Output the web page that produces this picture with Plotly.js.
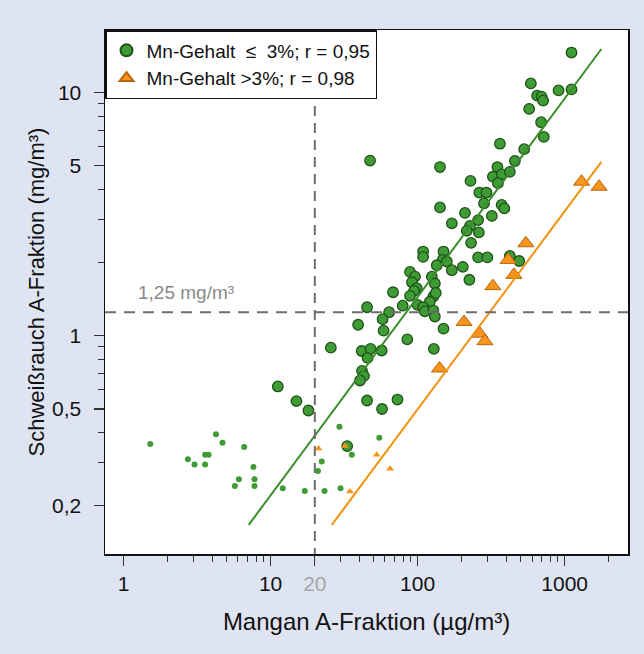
<!DOCTYPE html>
<html>
<head>
<meta charset="utf-8">
<script src="https://cdn.plot.ly/plotly-3.0.1.min.js"></script>
<style>html,body{margin:0;padding:0;background:#dfe4f3;}#chart{width:644px;height:654px;}</style>
</head>
<body>
<div id="chart"></div>
<script>
// Mn-Gehalt <= 3%, large markers (Mangan µg/m³, Schweißrauch mg/m³)
const mnLowX = [1114, 589, 909, 1114, 650, 697, 714, 574, 692, 722,
  363, 531, 47.5, 459, 142, 349, 325, 374, 424, 229,
  352, 263, 294, 283, 373, 389, 142, 210, 320, 171,
  227, 258, 216, 261, 231, 109, 109, 150, 148, 158,
  171, 203, 135, 258, 298, 424, 491, 125, 131, 225,
  88.8, 96, 91.6, 98.6, 94.6, 68.1, 88.8, 128, 133, 121,
  45.3, 79.2, 100, 109, 112, 128, 131, 64, 57.8, 58.7,
  39.4, 150, 85.1, 129, 25.7, 41.7, 47.9, 57, 45.7, 41.9,
  43.2, 40.6, 11.2, 15.0, 18.1, 45.3, 73.0, 57.3, 33.2];
const mnLowY = [14.6, 10.9, 10.2, 10.3, 9.71, 9.62, 9.26, 8.56, 7.55, 6.57,
  6.16, 5.85, 5.25, 5.23, 4.94, 4.94, 4.51, 4.61, 4.72, 4.33,
  4.24, 3.88, 3.88, 3.50, 3.45, 3.34, 3.37, 3.20, 3.11, 2.90,
  2.83, 2.99, 2.70, 2.66, 2.41, 2.22, 2.11, 2.22, 2.05, 2.02,
  1.86, 1.92, 1.95, 2.10, 2.10, 2.13, 2.03, 1.75, 1.64, 1.70,
  1.83, 1.75, 1.66, 1.57, 1.53, 1.51, 1.46, 1.45, 1.50, 1.38,
  1.31, 1.33, 1.34, 1.31, 1.26, 1.27, 1.20, 1.25, 1.17, 1.05,
  1.11, 1.07, 0.967, 0.883, 0.894, 0.866, 0.884, 0.870, 0.811, 0.717,
  0.684, 0.655, 0.619, 0.539, 0.493, 0.542, 0.547, 0.500, 0.352];
// Mn-Gehalt <= 3%, small markers
const mnLowSmallX = [1.52, 2.74, 3.04, 3.59, 3.79, 3.59, 4.25, 4.71, 6.62, 7.65, 6.09, 5.72,
  7.78, 7.78, 12.1, 17.1, 23.3, 29.9, 22.3, 21.0, 29.4, 54.9, 35.7];
const mnLowSmallY = [0.359, 0.311, 0.296, 0.324, 0.324, 0.296, 0.394, 0.363, 0.349, 0.289, 0.257, 0.241,
  0.257, 0.241, 0.236, 0.230, 0.230, 0.236, 0.304, 0.278, 0.423, 0.381, 0.324];
// Mn-Gehalt > 3%, large markers
const mnHighX = [1303, 1715, 545, 413, 452, 325, 207, 265, 287, 141];
const mnHighY = [4.30, 4.10, 2.40, 2.05, 1.78, 1.60, 1.14, 1.02, 0.95, 0.734];
// Mn-Gehalt > 3%, small markers
const mnHighSmallX = [21.2, 32.1, 52.7, 65.0, 34.7];
const mnHighSmallY = [0.344, 0.352, 0.324, 0.284, 0.229];
// regression lines (end points)
const fitLowX = [7.1, 1778];
const fitLowY = [0.167, 15.1];
const fitHighX = [26.1, 1778];
const fitHighY = [0.167, 5.19];
// reference values
const limitMn = 20;
const limitFume = 1.25;
const verticalTop = 9.2;
// ticks
const xTickVals = [1, 10, 20, 100, 1000];
const xTickText = ['1', '10', '<span style="color:#a6a6a6">20</span>', '100', '1000'];
const xMinorVals = [2,3,4,5,6,7,8,9,30,40,50,60,70,80,90,200,300,400,500,600,700,800,900,2000];
const yTickVals = [0.2, 0.5, 1, 5, 10];
const yTickText = ['0,2', '0,5', '1', '5', '10'];
const yMinorVals = [0.3,0.4,0.6,0.7,0.8,0.9,2,3,4,6,7,8,9];
const legendLow = 'Mn-Gehalt\u00a0 \u2264 \u00a03%; r = 0,95';
const legendHigh = 'Mn-Gehalt >3%; r = 0,98';
const fumeLabel = '1,25 mg/m\u00b3';

const green = '#3f9b35', greenDark = '#1e5317', greenLine = '#3a8f2b';
const orange = '#f7941d', orangeDark = '#b8660c', orangeLine = '#f0920e';
const font = 'Liberation Sans, Arial, sans-serif';

const traces = [
  {x: mnLowX, y: mnLowY, type: 'scatter', mode: 'markers', name: legendLow,
   marker: {symbol: 'circle', size: 10.5, color: green, line: {color: greenDark, width: 1.3}}},
  {x: mnLowSmallX, y: mnLowSmallY, type: 'scatter', mode: 'markers', showlegend: false,
   marker: {symbol: 'circle', size: 6, color: green}},
  {x: mnHighX, y: mnHighY, type: 'scatter', mode: 'markers', name: legendHigh,
   marker: {symbol: 'triangle-up', size: 14, color: orange, line: {color: orangeDark, width: 1}}},
  {x: mnHighSmallX, y: mnHighSmallY, type: 'scatter', mode: 'markers', showlegend: false,
   marker: {symbol: 'triangle-up', size: 7, color: orange}},
  {x: fitLowX, y: fitLowY, type: 'scatter', mode: 'lines', showlegend: false,
   line: {color: greenLine, width: 2}},
  {x: fitHighX, y: fitHighY, type: 'scatter', mode: 'lines', showlegend: false,
   line: {color: orangeLine, width: 2}}
];

const layout = {
  width: 644, height: 654,
  paper_bgcolor: '#dfe4f3', plot_bgcolor: '#ffffff',
  margin: {l: 105, r: 16, t: 30, b: 100},
  font: {family: font, size: 20, color: '#111'},
  showlegend: true,
  legend: {x: 0, y: 1, xanchor: 'left', yanchor: 'top', bgcolor: '#ffffff',
    bordercolor: '#111', borderwidth: 1.5, font: {size: 19, color: '#111'},
    tracegroupgap: 0, itemsizing: 'constant'},
  xaxis: {type: 'log', range: [-0.126, 3.431], showgrid: false, zeroline: false,
    showline: true, mirror: true, linecolor: '#111', linewidth: 1.5,
    ticks: 'outside', ticklen: 10, tickwidth: 1.2, tickcolor: '#333',
    tickmode: 'array', tickvals: xTickVals, ticktext: xTickText,
    tickfont: {size: 21, color: '#111'}, ticklabelstandoff: 0,
    minor: {tickmode: 'array', tickvals: xMinorVals, ticks: 'outside', ticklen: 6, tickwidth: 1, tickcolor: '#333', showgrid: false},
    title: {text: 'Mangan A-Fraktion (\u00b5g/m\u00b3)', font: {size: 24, color: '#111'}, standoff: 19}},
  yaxis: {type: 'log', range: [-0.897, 1.257], showgrid: false, zeroline: false,
    showline: true, mirror: true, linecolor: '#111', linewidth: 1.5,
    ticks: 'outside', ticklen: 10, tickwidth: 1.2, tickcolor: '#333',
    tickmode: 'array', tickvals: yTickVals, ticktext: yTickText,
    tickfont: {size: 21, color: '#111'}, ticklabelstandoff: 8,
    minor: {tickmode: 'array', tickvals: yMinorVals, ticks: 'outside', ticklen: 6, tickwidth: 1, tickcolor: '#333', showgrid: false},
    title: {text: 'Schwei\u00dfrauch A-Fraktion (mg/m\u00b3)', font: {size: 22, color: '#111'}, standoff: 1}},
  shapes: [
    {type: 'line', xref: 'x', yref: 'y', x0: limitMn, x1: limitMn, y0: 0.122, y1: verticalTop,
     line: {color: '#6e6e6e', width: 2, dash: '10px,7px'}, layer: 'above'},
    {type: 'line', xref: 'paper', yref: 'y', x0: 0, x1: 1, y0: limitFume, y1: limitFume,
     line: {color: '#6e6e6e', width: 2, dash: '11px,8px'}, layer: 'above'}
  ],
  annotations: [
    {xref: 'paper', yref: 'y', x: 0.155, y: Math.log10(limitFume), yshift: 20, text: fumeLabel, showarrow: false,
     font: {size: 19, color: '#8a8a8a'}, xanchor: 'center', yanchor: 'middle'}
  ]
};

Plotly.newPlot('chart', traces, layout, {staticPlot: true, displayModeBar: false});
</script>
</body>
</html>
